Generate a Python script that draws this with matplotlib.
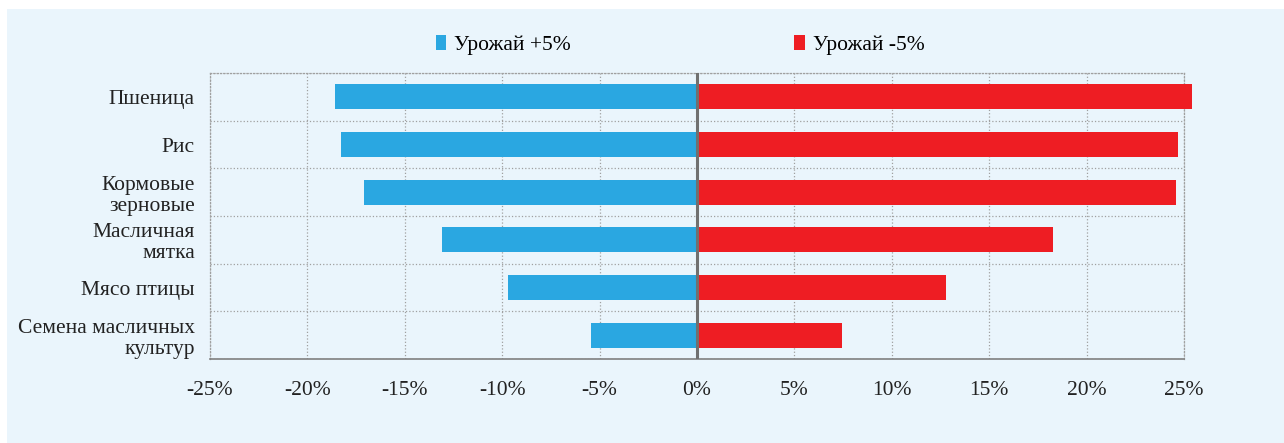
#coding:utf-8
# изменение цен при урожае +5% / -5%
import numpy as np
import matplotlib.pyplot as plt
from matplotlib.patches import Rectangle

categories = ['Пшеница', 'Рис', 'Кормовые\nзерновые', 'Масличная\nмятка',
              'Мясо птицы', 'Семена масличных\nкультур']
plus5 = [-18.6, -18.3, -17.1, -13.1, -9.7, -5.45]
minus5 = [25.4, 24.7, 24.6, 18.3, 12.8, 7.45]
xticks = [-25, -20, -15, -10, -5, 0, 5, 10, 15, 20, 25]
labels = ['Урожай +5%', 'Урожай -5%']

bg = '#eaf5fc'
fs = 15.5
plt.rcParams['font.family'] = ['Liberation Serif', 'DejaVu Serif']

fig = plt.figure(figsize=(12.84, 4.43), dpi=100)
fig.patch.set_facecolor('white')
# светлый фон (белая полоска сверху и слева)
fig.patches.append(Rectangle((7/1284, 0), 1, 1 - 9/443, transform=fig.transFigure,
                             facecolor=bg, edgecolor='none', zorder=-1))

ax = fig.add_axes([210/1284, 1 - 359/443, 974/1284, 286/443])
ax.set_facecolor(bg)

y = np.arange(len(categories))
b1 = ax.barh(y, plus5, height=0.53, color='#2aa7e1', label=labels[0], zorder=3)
b2 = ax.barh(y, minus5, height=0.53, color='#ee1d23', label=labels[1], zorder=3)
for r in list(b1) + list(b2):
    r.set_clip_on(False)

ax.set_ylim(len(categories) - 0.5, -0.5)
ax.set_xlim(-25, 25)
ax.set_yticks(y)
ax.set_yticklabels(categories, fontsize=fs, linespacing=1.15)
ax.set_yticks(np.arange(len(categories) + 1) - 0.5, minor=True)
ax.set_xticks(xticks)
ax.set_xticklabels(['%d%%' % v for v in xticks], fontsize=fs)
ax.tick_params(axis='both', which='both', length=0, colors='#222222')
ax.tick_params(axis='x', pad=15.5)
ax.tick_params(axis='y', pad=11)

# пунктирная сетка
ax.grid(axis='x', which='major', linestyle=':', color='#a0a0a0', linewidth=0.9, zorder=0)
ax.grid(axis='y', which='minor', linestyle=':', color='#a0a0a0', linewidth=0.9, zorder=0)
ax.axvline(0, color='#707070', linewidth=2.2, zorder=4)

for s in ['top', 'right', 'left']:
    ax.spines[s].set_linestyle(':')
    ax.spines[s].set_color('#a0a0a0')
    ax.spines[s].set_linewidth(0.9)
ax.spines['bottom'].set_color('#808080')
ax.spines['bottom'].set_linewidth(1.2)

fig.legend(handles=[b1, b2], loc='center', bbox_to_anchor=(680/1284, 1 - 45/443),
           ncol=2, frameon=False, fontsize=fs, handlelength=0.47, handleheight=0.7,
           handletextpad=0.37, columnspacing=10.4)

plt.savefig('out.png', dpi=100, facecolor=fig.get_facecolor())
